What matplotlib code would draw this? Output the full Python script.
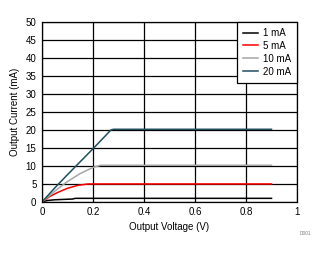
import matplotlib
matplotlib.use('Agg')
import matplotlib.pyplot as plt

plt.rcParams['font.family'] = ['Liberation Sans', 'DejaVu Sans']

labels = ['1 mA', '5 mA', '10 mA', '20 mA']
colors = ['#000000', '#ff0000', '#a6a6a6', '#1f4e5f']

v1 = [0, 0.02, 0.05, 0.10, 0.12, 0.13, 0.90]
i1 = [0, 0.4, 0.6, 0.75, 0.8, 1.0, 1.0]

v5 = [0, 0.03, 0.06, 0.10, 0.14, 0.17, 0.18, 0.90]
i5 = [0, 1.5, 2.6, 3.8, 4.6, 4.9, 5.0, 5.0]

v10 = [0, 0.05, 0.10, 0.15, 0.20, 0.22, 0.23, 0.90]
i10 = [0, 3.0, 5.7, 7.9, 9.6, 10.0, 10.2, 10.2]

v20 = [0, 0.05, 0.10, 0.15, 0.20, 0.25, 0.27, 0.28, 0.90]
i20 = [0, 3.9, 7.6, 11.2, 14.8, 18.5, 20.0, 20.2, 20.2]

xticks = [0, 0.2, 0.4, 0.6, 0.8, 1]
yticks = [0, 5, 10, 15, 20, 25, 30, 35, 40, 45, 50]

fs = 7
fig = plt.figure(figsize=(3.26, 2.54), dpi=100)
ax = fig.add_axes([0.129, 0.205, 0.782, 0.708])

for x, y, c, lab in zip([v1, v5, v10, v20], [i1, i5, i10, i20], colors, labels):
    ax.plot(x, y, color=c, lw=1.1, label=lab)

ax.set_xlim(0, 1)
ax.set_ylim(0, 50)
ax.set_xticks(xticks)
ax.set_xticklabels(['0', '0.2', '0.4', '0.6', '0.8', '1'])
ax.set_yticks(yticks)
ax.tick_params(labelsize=fs, length=0, pad=4)
ax.grid(True, color='black', lw=0.9)
ax.set_axisbelow(True)
for s in ax.spines.values():
    s.set_linewidth(0.9)

ax.set_xlabel('Output Voltage (V)', fontsize=fs, labelpad=3)
ax.set_ylabel('Output Current (mA)', fontsize=fs, labelpad=4)

leg = ax.legend(loc='upper right', fontsize=fs, frameon=True, fancybox=False,
                borderaxespad=0, handlelength=1.6, handletextpad=0.5,
                labelspacing=0.3, borderpad=0.6, framealpha=1)
leg.get_frame().set_edgecolor('black')
leg.get_frame().set_linewidth(0.9)

fig.text(0.955, 0.075, 'D001', fontsize=3.5, color='#808080', ha='right')

fig.savefig('out.png', dpi=100)
